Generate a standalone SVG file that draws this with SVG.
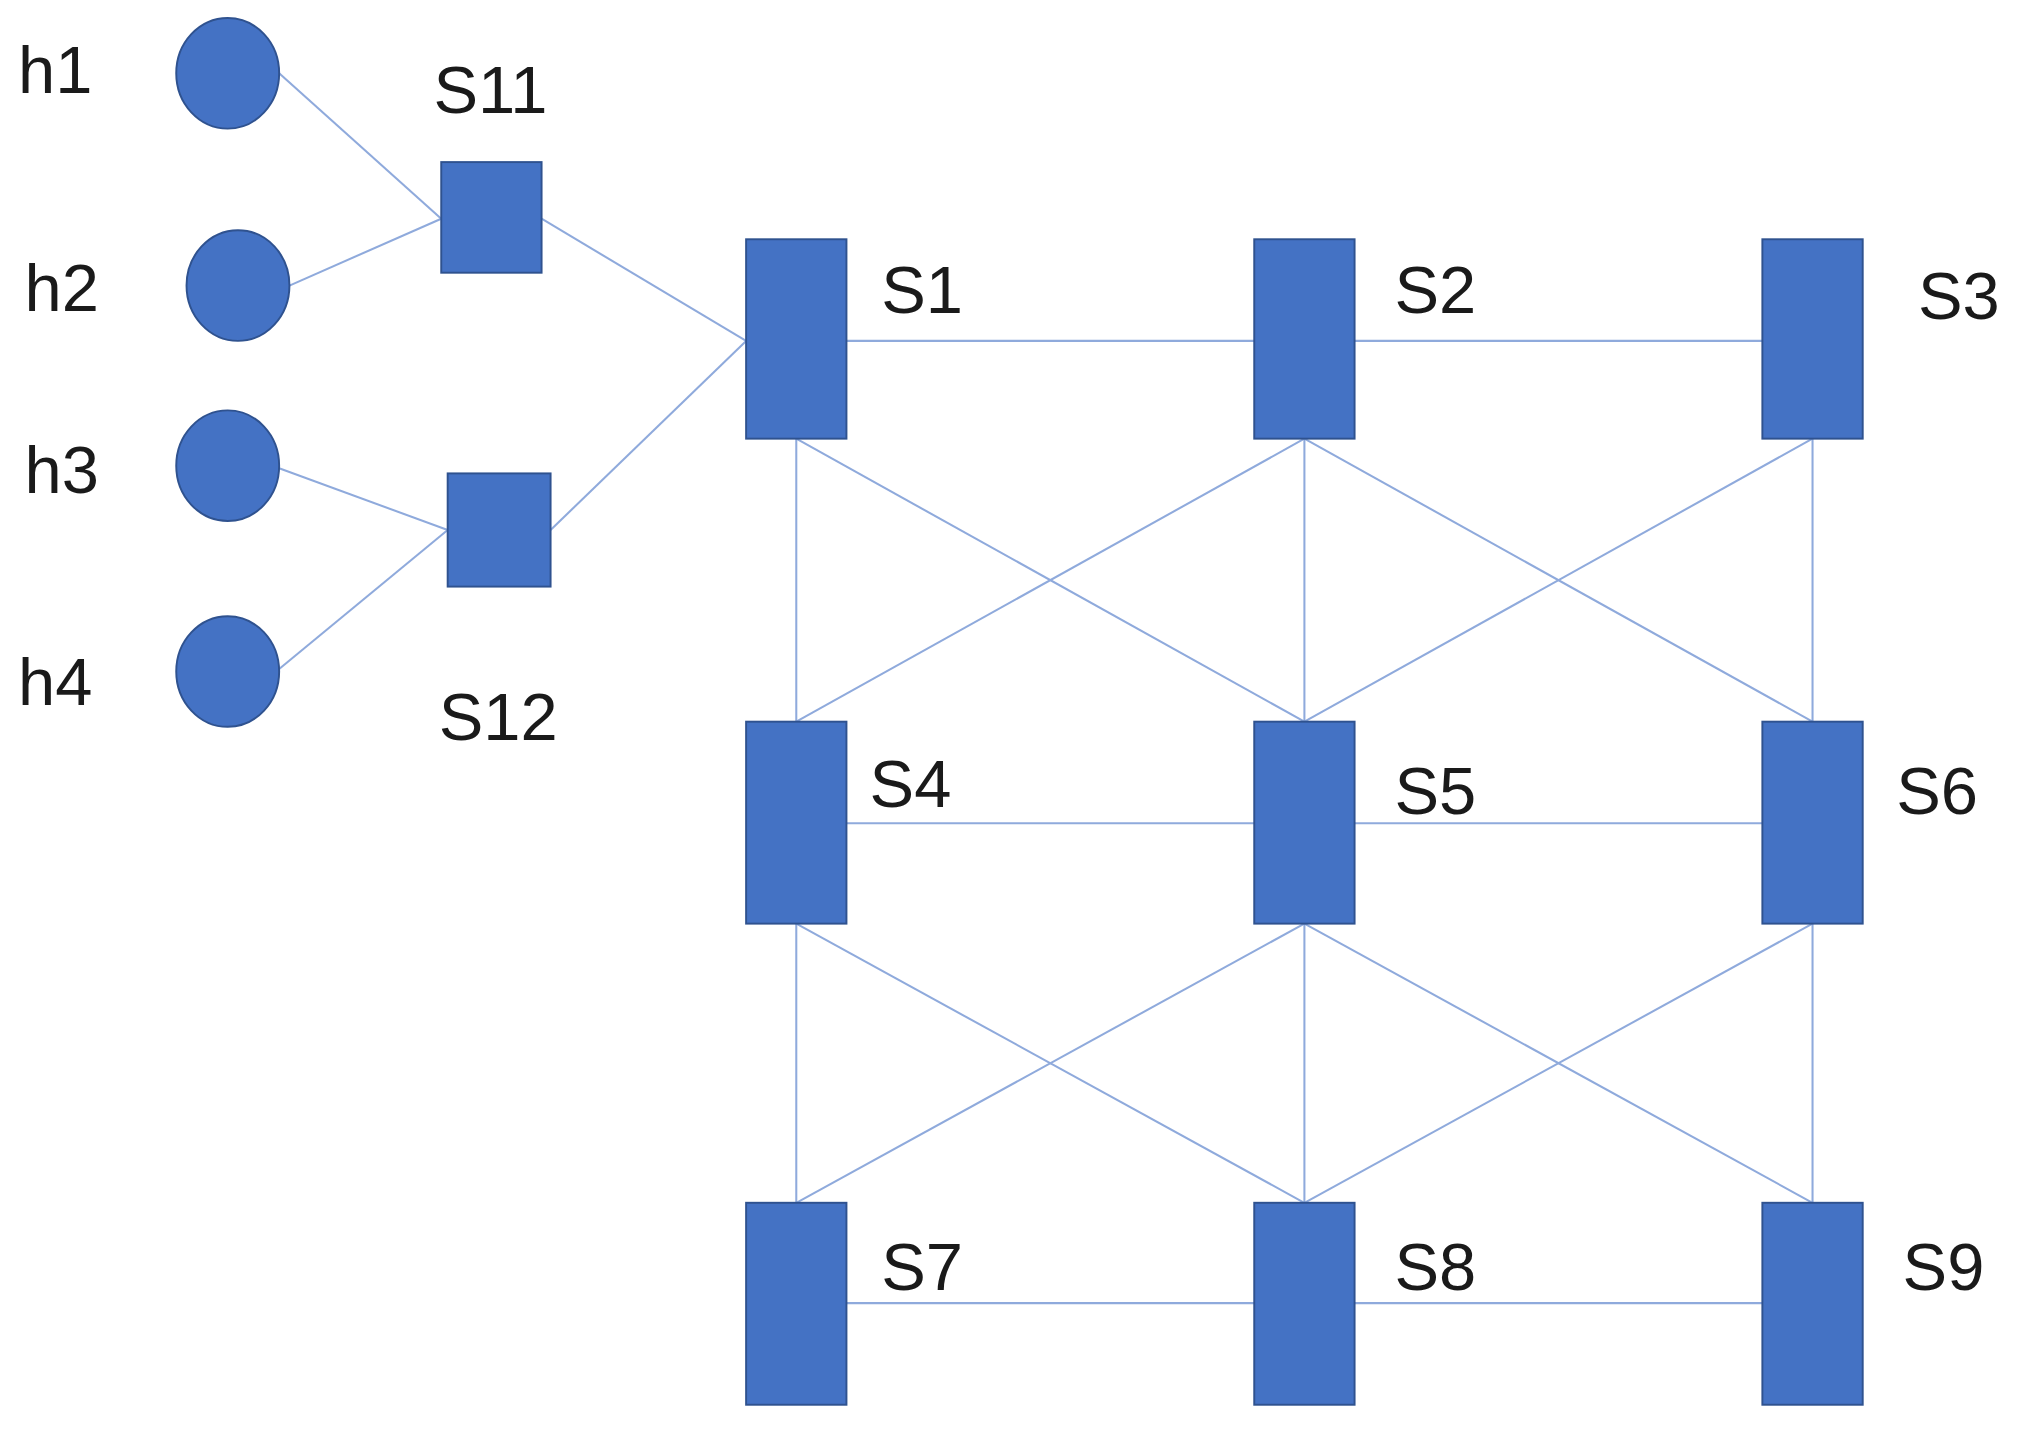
<svg xmlns="http://www.w3.org/2000/svg" width="2017" height="1436" viewBox="0 0 2017 1436">
<style>
.n{fill:#4472C4;stroke:#2F528F;stroke-width:1.5}
.l{stroke:#8FAADC;stroke-width:1.6;fill:none}
text{font-family:"Liberation Sans","Noto Sans",sans-serif;font-size:52px;fill:#1a1a1a}
</style>
<rect width="2017" height="1436" fill="#fff"/>
<g transform="scale(1.2864)">
<g id="connectors" class="l">
<line x1="217" y1="57" x2="343" y2="170"/>
<line x1="225" y1="222" x2="343" y2="170"/>
<line x1="217" y1="364" x2="348" y2="412"/>
<line x1="217" y1="520" x2="348" y2="412"/>
<line x1="421" y1="170" x2="580" y2="265"/>
<line x1="428" y1="412" x2="580" y2="265"/>
<line x1="658" y1="265" x2="975" y2="265"/>
<line x1="1053" y1="265" x2="1370" y2="265"/>
<line x1="658" y1="640" x2="975" y2="640"/>
<line x1="1053" y1="640" x2="1370" y2="640"/>
<line x1="658" y1="1013" x2="975" y2="1013"/>
<line x1="1053" y1="1013" x2="1370" y2="1013"/>
<line x1="619" y1="341" x2="619" y2="561"/>
<line x1="1014" y1="341" x2="1014" y2="561"/>
<line x1="1409" y1="341" x2="1409" y2="561"/>
<line x1="619" y1="718" x2="619" y2="935"/>
<line x1="1014" y1="718" x2="1014" y2="935"/>
<line x1="1409" y1="718" x2="1409" y2="935"/>
<line x1="619" y1="341" x2="1014" y2="561"/>
<line x1="1014" y1="341" x2="619" y2="561"/>
<line x1="1014" y1="341" x2="1409" y2="561"/>
<line x1="1409" y1="341" x2="1014" y2="561"/>
<line x1="619" y1="718" x2="1014" y2="935"/>
<line x1="1014" y1="718" x2="619" y2="935"/>
<line x1="1014" y1="718" x2="1409" y2="935"/>
<line x1="1409" y1="718" x2="1014" y2="935"/>
</g>
<g id="h1"><ellipse class="n" cx="177" cy="57" rx="40" ry="43"/><text x="14" y="72">h1</text></g>
<g id="h2"><ellipse class="n" cx="185" cy="222" rx="40" ry="43"/><text x="19" y="242">h2</text></g>
<g id="h3"><ellipse class="n" cx="177" cy="362" rx="40" ry="43"/><text x="19" y="383">h3</text></g>
<g id="h4"><ellipse class="n" cx="177" cy="522" rx="40" ry="43"/><text x="14" y="548">h4</text></g>
<g id="S11"><rect class="n" x="343" y="126" width="78" height="86"/><text x="337" y="88">S11</text></g>
<g id="S12"><rect class="n" x="348" y="368" width="80" height="88"/><text x="341" y="575">S12</text></g>
<g id="S1"><rect class="n" x="580" y="186" width="78" height="155"/><text x="685" y="243">S1</text></g>
<g id="S2"><rect class="n" x="975" y="186" width="78" height="155"/><text x="1084" y="243">S2</text></g>
<g id="S3"><rect class="n" x="1370" y="186" width="78" height="155"/><text x="1491" y="248">S3</text></g>
<g id="S4"><rect class="n" x="580" y="561" width="78" height="157"/><text x="676" y="627">S4</text></g>
<g id="S5"><rect class="n" x="975" y="561" width="78" height="157"/><text x="1084" y="633">S5</text></g>
<g id="S6"><rect class="n" x="1370" y="561" width="78" height="157"/><text x="1474" y="633">S6</text></g>
<g id="S7"><rect class="n" x="580" y="935" width="78" height="157"/><text x="685" y="1003">S7</text></g>
<g id="S8"><rect class="n" x="975" y="935" width="78" height="157"/><text x="1084" y="1003">S8</text></g>
<g id="S9"><rect class="n" x="1370" y="935" width="78" height="157"/><text x="1479" y="1003">S9</text></g>
</g>
</svg>
